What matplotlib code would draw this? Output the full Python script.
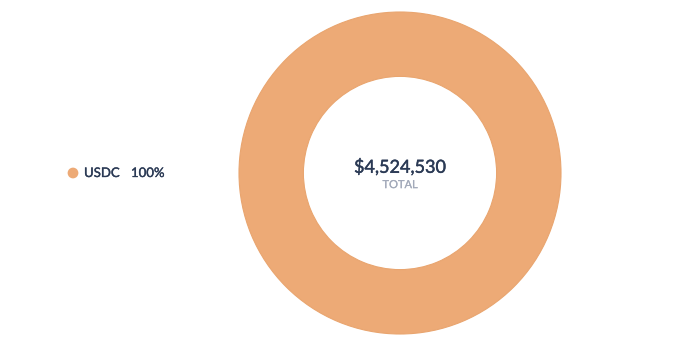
import matplotlib
matplotlib.use("Agg")
import matplotlib.pyplot as plt
import matplotlib.patheffects as pe

plt.rcParams['font.family'] = ['Lato', 'DejaVu Sans']

labels = ['USDC']
values = [4524530]
shares = ['100%']
colors = ['#EDAA76']
total_text = '$4,524,530'

W, H = 690, 346
fig = plt.figure(figsize=(W / 100, H / 100), dpi=100)


def heavier(c, w=0.25):
    # Lato here has no medium weight, so thicken regular glyphs a bit
    return [pe.withStroke(linewidth=w, foreground=c)]


# donut axes, placed in pixel terms
cx, cy, r = 400, 173, 161
ax = fig.add_axes([(cx - r) / W, 1 - (cy + r) / H, 2 * r / W, 2 * r / H])
ax.pie(values, colors=colors, radius=1, startangle=90, counterclock=False,
       wedgeprops=dict(width=0.4, edgecolor='#E9A56F', linewidth=0.8))
ax.set_xlim(-1, 1)
ax.set_ylim(-1, 1)
ax.set_aspect('equal')
ax.text(0, 0.035, total_text, ha='center', va='center', fontsize=13,
        color='#2B3A55', path_effects=heavier('#2B3A55', 0.3))
ax.text(0, -0.072, 'TOTAL', ha='center', va='center', fontsize=8,
        color='#A3AABA', path_effects=heavier('#A3AABA', 0.15))

# legend drawn on a full-figure overlay
lax = fig.add_axes([0, 0, 1, 1])
lax.set_xlim(0, W)
lax.set_ylim(H, 0)
lax.axis('off')
for i, (lab, sh, c) in enumerate(zip(labels, shares, colors)):
    y = 173 + i * 22
    lax.scatter([73], [y], s=60, color=c, edgecolor='none')
    lax.text(84, y, lab, va='center', ha='left', fontsize=9.5,
             color='#2B3A55', path_effects=heavier('#2B3A55'))
    lax.text(131, y, sh, va='center', ha='left', fontsize=9.5,
             color='#2B3A55', path_effects=heavier('#2B3A55'))

fig.savefig('out.png', dpi=100)
